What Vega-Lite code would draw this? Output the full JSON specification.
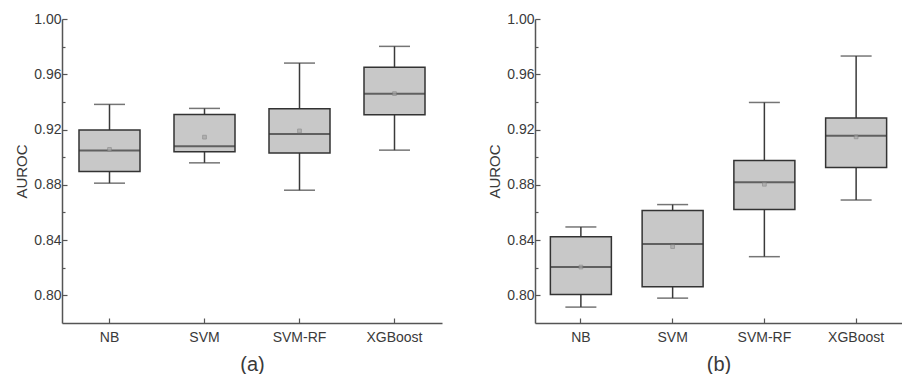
{
  "$schema": "https://vega.github.io/schema/vega-lite/v6.json",
  "background": "white",
  "padding": {"left": 14, "top": 12, "right": 0, "bottom": 0},
  "config": {
    "view": {"stroke": null},
    "font": "Liberation Sans",
    "axis": {
      "labelFont": "Liberation Sans",
      "titleFont": "Liberation Sans",
      "labelFontSize": 14,
      "labelColor": "#3a3a3a",
      "titleColor": "#3a3a3a",
      "titleFontWeight": "normal",
      "domainColor": "#555555",
      "domainWidth": 1.5,
      "tickColor": "#555555",
      "tickWidth": 1.2,
      "grid": false
    }
  },
  "datasets": {
    "a": [
      {"model": "NB", "lower": 0.8812, "q1": 0.8896, "median": 0.9049, "q3": 0.9196, "upper": 0.9382, "mean": 0.9056},
      {"model": "SVM", "lower": 0.8959, "q1": 0.9039, "median": 0.908, "q3": 0.9309, "upper": 0.9353, "mean": 0.9145},
      {"model": "SVM-RF", "lower": 0.8761, "q1": 0.9031, "median": 0.9167, "q3": 0.935, "upper": 0.9681, "mean": 0.919},
      {"model": "XGBoost", "lower": 0.9051, "q1": 0.9307, "median": 0.9459, "q3": 0.965, "upper": 0.9802, "mean": 0.946}
    ],
    "b": [
      {"model": "NB", "lower": 0.7915, "q1": 0.8007, "median": 0.8205, "q3": 0.8425, "upper": 0.8495, "mean": 0.8205},
      {"model": "SVM", "lower": 0.798, "q1": 0.8063, "median": 0.8372, "q3": 0.8614, "upper": 0.8657, "mean": 0.8353},
      {"model": "SVM-RF", "lower": 0.828, "q1": 0.8621, "median": 0.8819, "q3": 0.8976, "upper": 0.9396, "mean": 0.8804},
      {"model": "XGBoost", "lower": 0.869, "q1": 0.8925, "median": 0.9155, "q3": 0.9283, "upper": 0.9732, "mean": 0.9147}
    ]
  },
  "spacing": 45,
  "hconcat": [
    {
      "width": 380,
      "height": 304,
      "data": {"name": "a"},
      "encoding": {
        "x": {"field": "model", "type": "nominal", "sort": null,
          "scale": {"type": "band", "paddingInner": 0, "paddingOuter": 0},
          "axis": {"title": "(a)", "titleFontSize": 20, "titlePadding": 10, "labelAngle": 0, "tickSize": -5, "labelPadding": 12}}
      },
      "resolve": {"axis": {"y": "independent"}},
      "layer": [
        {"mark": {"type": "rule", "color": "#3a3a3a", "strokeWidth": 1.5},
         "encoding": {
           "y": {"field": "lower", "type": "quantitative", "scale": {"domain": [0.78, 1.0], "nice": false, "zero": false},
             "axis": {"title": "AUROC", "titleFontSize": 15, "titlePadding": 4, "values": [0.8, 0.84, 0.88, 0.92, 0.96, 1.0], "format": ".2f", "tickSize": -5, "labelPadding": 6, "orient": "left"}},
           "y2": {"field": "upper"}}},
        {"mark": {"type": "tick", "color": "#3a3a3a", "thickness": 1.5, "size": 31},
         "encoding": {"y": {"field": "lower", "type": "quantitative", "scale": {"domain": [0.78, 1.0], "nice": false, "zero": false},
           "axis": {"title": null, "labels": false, "domain": false, "values": [0.82, 0.86, 0.9, 0.94, 0.98], "tickSize": -3, "orient": "left"}}}},
        {"mark": {"type": "tick", "color": "#3a3a3a", "thickness": 1.5, "size": 31},
         "encoding": {"y": {"field": "upper", "type": "quantitative", "axis": null}}},
        {"mark": {"type": "bar", "fill": "#c8c8c8", "stroke": "#333333", "strokeWidth": 1.5, "size": 61},
         "encoding": {"y": {"field": "q1", "type": "quantitative", "axis": null}, "y2": {"field": "q3"}}},
        {"mark": {"type": "tick", "color": "#333333", "thickness": 2, "size": 61},
         "encoding": {"y": {"field": "median", "type": "quantitative", "axis": null}}},
        {"mark": {"type": "point", "shape": "square", "filled": true, "size": 14, "color": "#a8a8a8", "stroke": "#808080", "strokeWidth": 0.8},
         "encoding": {"y": {"field": "mean", "type": "quantitative", "axis": null}}}
      ]
    },
    {
      "width": 367,
      "height": 304,
      "data": {"name": "b"},
      "encoding": {
        "x": {"field": "model", "type": "nominal", "sort": null,
          "scale": {"type": "band", "paddingInner": 0, "paddingOuter": 0},
          "axis": {"title": "(b)", "titleFontSize": 20, "titlePadding": 10, "labelAngle": 0, "tickSize": -5, "labelPadding": 12}}
      },
      "resolve": {"axis": {"y": "independent"}},
      "layer": [
        {"mark": {"type": "rule", "color": "#3a3a3a", "strokeWidth": 1.5},
         "encoding": {
           "y": {"field": "lower", "type": "quantitative", "scale": {"domain": [0.78, 1.0], "nice": false, "zero": false},
             "axis": {"title": "AUROC", "titleFontSize": 15, "titlePadding": 4, "values": [0.8, 0.84, 0.88, 0.92, 0.96, 1.0], "format": ".2f", "tickSize": -5, "labelPadding": 6, "orient": "left"}},
           "y2": {"field": "upper"}}},
        {"mark": {"type": "tick", "color": "#3a3a3a", "thickness": 1.5, "size": 31},
         "encoding": {"y": {"field": "lower", "type": "quantitative", "scale": {"domain": [0.78, 1.0], "nice": false, "zero": false},
           "axis": {"title": null, "labels": false, "domain": false, "values": [0.82, 0.86, 0.9, 0.94, 0.98], "tickSize": -3, "orient": "left"}}}},
        {"mark": {"type": "tick", "color": "#3a3a3a", "thickness": 1.5, "size": 31},
         "encoding": {"y": {"field": "upper", "type": "quantitative", "axis": null}}},
        {"mark": {"type": "bar", "fill": "#c8c8c8", "stroke": "#333333", "strokeWidth": 1.5, "size": 61},
         "encoding": {"y": {"field": "q1", "type": "quantitative", "axis": null}, "y2": {"field": "q3"}}},
        {"mark": {"type": "tick", "color": "#333333", "thickness": 2, "size": 61},
         "encoding": {"y": {"field": "median", "type": "quantitative", "axis": null}}},
        {"mark": {"type": "point", "shape": "square", "filled": true, "size": 14, "color": "#a8a8a8", "stroke": "#808080", "strokeWidth": 0.8},
         "encoding": {"y": {"field": "mean", "type": "quantitative", "axis": null}}}
      ]
    }
  ]
}
